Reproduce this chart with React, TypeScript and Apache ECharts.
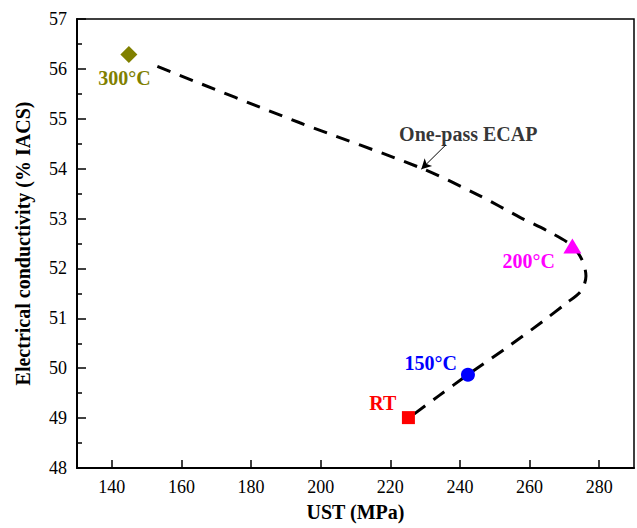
import React, { useEffect, useRef } from "react";
import * as echarts from "echarts";

const xTicks = [140, 160, 180, 200, 220, 240, 260, 280];
const pointNames = ["RT", "150°C", "200°C", "300°C"];
const pointUst = [225.2, 242.3, 272.3, 144.9];
const pointCond = [49.01, 49.87, 52.45, 56.29];
const pointColors = ["#ff0000", "#0000ff", "#ff00ff", "#808000"];
const pointSymbols = ["rect", "circle", "triangle", "diamond"];
const pointSizes: any[] = [13, 14, [18, 15], 17];
const labelOffsets: any[] = [[-25.5, -14.3], [-37.3, -12.2], [-43.7, 15.5], [-4.5, 23.7]];

const curveUst = [226.8, 234, 242.3, 254.2, 264, 270.5, 274.8, 276.2, 275.2, 272.3, 265.2, 257.1, 245.6, 228.9, 194.0, 150.9];
const curveCond = [49.08, 49.45, 49.87, 50.45, 50.95, 51.3, 51.55, 51.85, 52.15, 52.45, 52.75, 53.03, 53.46, 54.01, 54.92, 56.11];

const annotationText = "One-pass ECAP";
const annotationPos = [242.4, 54.7];
const arrowFrom = [236, 54.48];
const arrowTo = [228.9, 53.99];

const FONT = "Liberation Serif";

export default function App() {
  const ref = useRef<HTMLDivElement>(null);
  useEffect(() => {
    if (!ref.current) return;
    const chart = echarts.init(ref.current, undefined, { renderer: "svg" });
    const pointSeries = pointNames.map((n, i) => ({
      type: "scatter",
      name: n,
      data: [[pointUst[i], pointCond[i]]],
      symbol: pointSymbols[i],
      symbolSize: pointSizes[i],
      itemStyle: { color: pointColors[i], opacity: 1 },
      z: 5,
      label: {
        show: true,
        formatter: n,
        position: "inside",
        offset: labelOffsets[i],
        color: pointColors[i],
        fontFamily: FONT,
        fontWeight: "bold",
        fontSize: 20,
      },
    }));
    chart.setOption({
      animation: false,
      backgroundColor: "#fff",
      textStyle: { fontFamily: FONT },
      grid: {
        left: 77,
        top: 19,
        right: 3,
        bottom: 60,
        show: true,
        borderColor: "#000",
        borderWidth: 1.5,
      },
      xAxis: {
        type: "value",
        min: 130,
        max: 290,
        name: "UST (MPa)",
        nameLocation: "middle",
        nameGap: 34,
        nameTextStyle: { fontFamily: FONT, fontWeight: "bold", fontSize: 20, color: "#000" },
        axisLine: { show: true, lineStyle: { color: "#000", width: 2 } },
        axisTick: { show: true, inside: true, length: 8, lineStyle: { color: "#000", width: 1.5 }, customValues: xTicks },
        axisLabel: { color: "#000", fontFamily: FONT, fontSize: 18, margin: 10, customValues: xTicks },
        splitLine: { show: false },
      },
      yAxis: {
        type: "value",
        min: 48,
        max: 57,
        interval: 1,
        name: "Electrical conductivity (% IACS)",
        nameLocation: "middle",
        nameGap: 44,
        nameTextStyle: { fontFamily: FONT, fontWeight: "bold", fontSize: 20, color: "#000" },
        axisLine: { show: true, lineStyle: { color: "#000", width: 2 } },
        axisTick: { show: true, inside: true, length: 9, lineStyle: { color: "#000", width: 1.5 } },
        minorTick: { show: true, splitNumber: 2, length: 5, lineStyle: { color: "#000", width: 1.5 } },
        axisLabel: { color: "#000", fontFamily: FONT, fontSize: 18, margin: 10 },
        splitLine: { show: false },
      },
      series: [
        {
          type: "line",
          data: curveUst.map((x, i) => [x, curveCond[i]]),
          smooth: 0.3,
          showSymbol: false,
          symbol: "none",
          lineStyle: { color: "#000", width: 3, type: [14, 10] },
          z: 3,
          markLine: {
            silent: true,
            symbol: ["none", "arrow"],
            symbolSize: [8, 10],
            label: { show: false },
            lineStyle: { color: "#000", width: 1, type: "solid" },
            data: [[{ coord: arrowFrom }, { coord: arrowTo }]],
          },
        },
        {
          type: "scatter",
          data: [annotationPos],
          symbolSize: 0,
          label: {
            show: true,
            formatter: annotationText,
            position: "inside",
            color: "#000",
            fontFamily: FONT,
            fontWeight: "bold",
            fontSize: 20,
          },
        },
        ...pointSeries,
      ],
    });
    return () => chart.dispose();
  }, []);
  return <div ref={ref} style={{ width: 637, height: 528, position: "absolute", left: 0, top: 0 }} />;
}
